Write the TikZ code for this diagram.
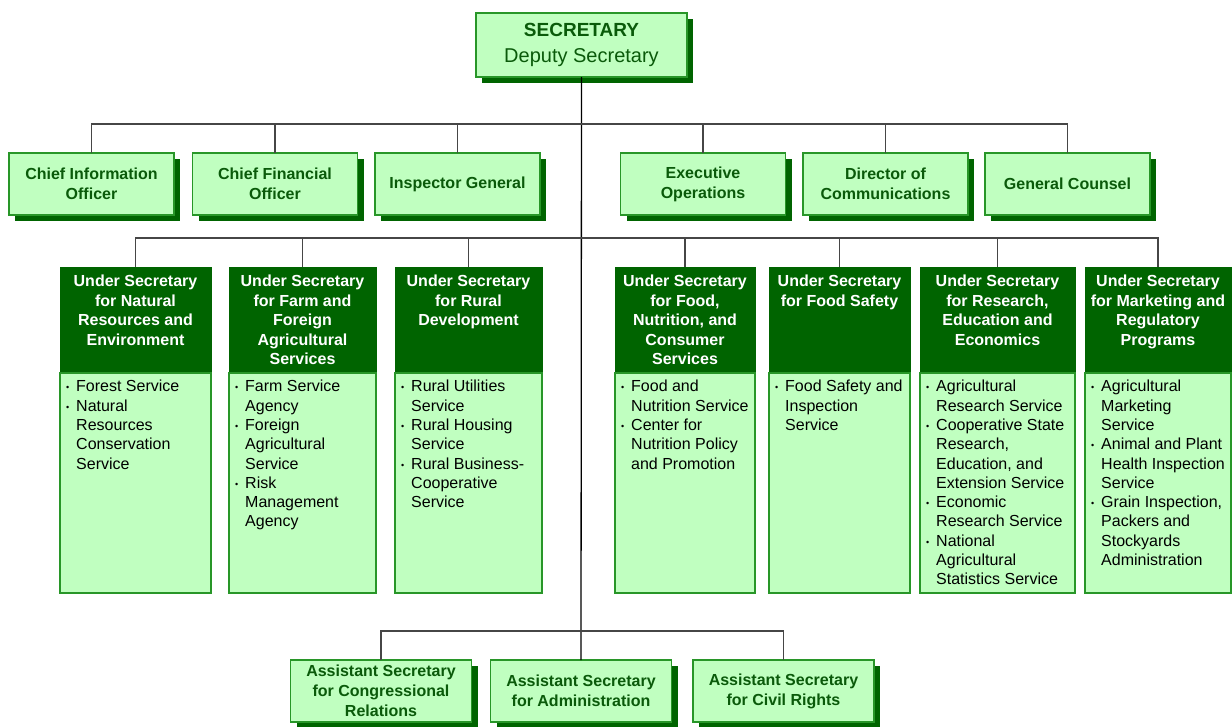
\documentclass[tikz,border=0pt]{standalone}
\usepackage{fontspec}
\setmainfont{Liberation Sans}
\usetikzlibrary{positioning,shadows}

\definecolor{darkgrn}{RGB}{0,100,0}
\definecolor{lightgrn}{RGB}{192,255,192}
\definecolor{edgegrn}{RGB}{40,150,40}
\definecolor{textgrn}{RGB}{10,90,10}
\definecolor{linegray}{RGB}{70,70,70}

\newcommand{\bl}{\makebox[10pt][l]{\raisebox{1pt}{\fontsize{9}{9}\selectfont •}}}
\newcommand{\ind}{\hspace*{10pt}}

\begin{document}
\begin{tikzpicture}[x=1pt,y=-1pt,
  box/.style={draw=edgegrn,line width=1.2pt,fill=lightgrn,text=textgrn,
    font=\fontsize{16}{20}\selectfont\bfseries,align=center,inner sep=0pt,outer sep=0pt,
    drop shadow={shadow xshift=6pt,shadow yshift=-6pt,fill=darkgrn,opacity=1}},
  staff/.style={box,minimum width=165pt,minimum height=62pt},
  asst/.style={box,minimum width=181pt,minimum height=62pt},
  head/.style={draw=darkgrn,fill=darkgrn,line width=1pt,anchor=north,
    minimum height=106pt,inner sep=0pt,outer sep=0pt},
  headtext/.style={text=white,font=\fontsize{16}{19.5}\selectfont\bfseries,align=center,inner sep=0pt},
  body/.style={draw=edgegrn,fill=lightgrn,line width=1.2pt,minimum height=220pt,inner sep=0pt,outer sep=0pt},
  bodytext/.style={font=\fontsize{16}{19.3}\selectfont,align=left,inner sep=0pt},
  bus/.style={draw=linegray,line width=1.3pt}]
\useasboundingbox (0,0) rectangle (1232,726);

% Secretary
\node[box,minimum width=211pt,minimum height=64pt,font=\fontsize{20}{24}\selectfont] (sec) at (581.5,45)
  {{\fontsize{19}{24}\selectfont\bfseries SECRETARY}\\[2pt]{\fontsize{20}{24}\selectfont\mdseries Deputy Secretary}};

% Staff offices
\node[staff] (cio) at (91.5,184) {Chief Information\\Officer};
\node[staff] (cfo) at (275,184) {Chief Financial\\Officer};
\node[staff] (ig) at (457.5,184) {Inspector General};
\node[staff] (exo) at (703,184) {Executive\\Operations};
\node[staff] (dcom) at (885.5,184) {Director of\\Communications};
\node[staff] (gc) at (1067.5,184) {General Counsel};

% Under Secretaries
\node[head,minimum width=151pt] (nre) at (135.5,267) {};
\node[headtext,below=8pt of nre.north] {Under Secretary\\for Natural\\Resources and\\Environment};
\node[body,minimum width=151pt,below=0pt of nre] (nreB) {};
\node[bodytext,below right=7pt and 6pt of nreB.north west]
  {\bl Forest Service\\\bl Natural\\\ind Resources\\\ind Conservation\\\ind Service};

\node[head,minimum width=147pt] (ffas) at (302.5,267) {};
\node[headtext,below=8pt of ffas.north] {Under Secretary\\for Farm and\\Foreign\\Agricultural\\Services};
\node[body,minimum width=147pt,below=0pt of ffas] (ffasB) {};
\node[bodytext,below right=7pt and 6pt of ffasB.north west]
  {\bl Farm Service\\\ind Agency\\\bl Foreign\\\ind Agricultural\\\ind Service\\\bl Risk\\\ind Management\\\ind Agency};

\node[head,minimum width=147pt] (rd) at (468.5,267) {};
\node[headtext,below=8pt of rd.north] {Under Secretary\\for Rural\\Development};
\node[body,minimum width=147pt,below=0pt of rd] (rdB) {};
\node[bodytext,below right=7pt and 6pt of rdB.north west]
  {\bl Rural Utilities\\\ind Service\\\bl Rural Housing\\\ind Service\\\bl Rural Business-\\\ind Cooperative\\\ind Service};

\node[head,minimum width=140pt] (fncs) at (685,267) {};
\node[headtext,below=8pt of fncs.north] {Under Secretary\\for Food,\\Nutrition, and\\Consumer\\Services};
\node[body,minimum width=140pt,below=0pt of fncs] (fncsB) {};
\node[bodytext,below right=7pt and 6pt of fncsB.north west]
  {\bl Food and\\\ind Nutrition Service\\\bl Center for\\\ind Nutrition Policy\\\ind and Promotion};

\node[head,minimum width=141pt] (fs) at (839.5,267) {};
\node[headtext,below=8pt of fs.north] {Under Secretary\\for Food Safety};
\node[body,minimum width=141pt,below=0pt of fs] (fsB) {};
\node[bodytext,below right=7pt and 6pt of fsB.north west]
  {\bl Food Safety and\\\ind Inspection\\\ind Service};

\node[head,minimum width=155pt] (ree) at (997.5,267) {};
\node[headtext,below=8pt of ree.north] {Under Secretary\\for Research,\\Education and\\Economics};
\node[body,minimum width=155pt,below=0pt of ree] (reeB) {};
\node[bodytext,below right=7pt and 6pt of reeB.north west]
  {\bl Agricultural\\\ind Research Service\\\bl Cooperative State\\\ind Research,\\\ind Education, and\\\ind Extension Service\\\bl Economic\\\ind Research Service\\\bl National\\\ind Agricultural\\\ind Statistics Service};

\node[head,minimum width=146pt] (mrp) at (1158,267) {};
\node[headtext,below=8pt of mrp.north] {Under Secretary\\for Marketing and\\Regulatory\\Programs};
\node[body,minimum width=146pt,below=0pt of mrp] (mrpB) {};
\node[bodytext,below right=7pt and 6pt of mrpB.north west]
  {\bl Agricultural\\\ind Marketing\\\ind Service\\\bl Animal and Plant\\\ind Health Inspection\\\ind Service\\\bl Grain Inspection,\\\ind Packers and\\\ind Stockyards\\\ind Administration};

% Assistant Secretaries
\node[asst] (acr) at (381,691) {Assistant Secretary\\for Congressional\\Relations};
\node[asst] (adm) at (581,691) {Assistant Secretary\\for Administration};
\node[asst] (acv) at (783.5,691) {Assistant Secretary\\for Civil Rights};

% Connectors
\coordinate (staffbus) at (581,124);
\coordinate (usbus) at (581,238);
\coordinate (asbus) at (581,631);
\draw[line width=1.3pt] (sec.south) -- (adm.north);
\draw[bus] (cio.north) |- (staffbus) -| (gc.north);
\foreach \n in {cfo,ig,exo,dcom}
  \draw[bus] (\n.north) -- (\n.north |- staffbus);
\draw[bus] (nre.north) |- (usbus) -| (mrp.north);
\foreach \n in {ffas,rd,fncs,fs,ree}
  \draw[bus] (\n.north) -- (\n.north |- usbus);
\draw[bus] (acr.north) |- (asbus) -| (acv.north);
\end{tikzpicture}
\end{document}
